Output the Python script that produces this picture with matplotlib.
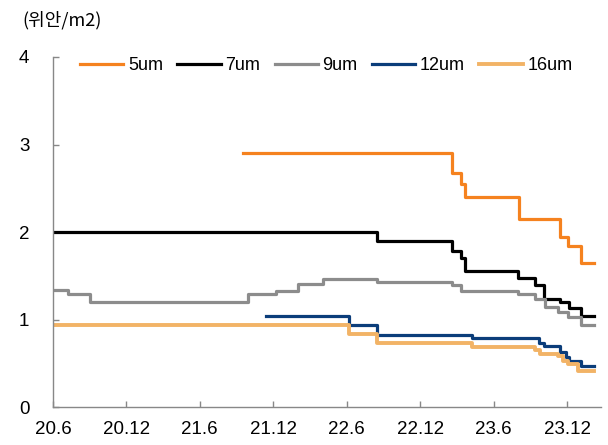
import matplotlib
matplotlib.use("Agg")
import matplotlib.pyplot as plt
from matplotlib import font_manager

# months since 2020-06, step changes
tick_pos = [0, 6, 12, 18, 24, 30, 36, 42]
tick_labels = ["20.6", "20.12", "21.6", "21.12", "22.6", "22.12", "23.6", "23.12"]

m_5um = [15.5, 32.6, 33.3, 33.7, 38.1, 41.4, 42.1, 43.1, 44.2]
v_5um = [2.9, 2.68, 2.55, 2.4, 2.15, 1.94, 1.84, 1.65, 1.65]

m_7um = [0, 26.5, 32.6, 33.3, 33.7, 38.0, 39.4, 40.1, 41.4, 42.2, 43.1, 44.2]
v_7um = [2.0, 1.9, 1.78, 1.7, 1.55, 1.48, 1.39, 1.24, 1.2, 1.13, 1.04, 1.04]

m_9um = [0, 1.2, 3.0, 15.9, 18.2, 20.0, 22.1, 26.5, 32.6, 33.3, 38.0, 39.4,
         40.2, 41.3, 42.1, 43.1, 44.2]
v_9um = [1.34, 1.29, 1.2, 1.29, 1.33, 1.41, 1.46, 1.43, 1.39, 1.33, 1.29, 1.24,
         1.14, 1.09, 1.03, 0.94, 0.94]

m_12um = [17.4, 24.2, 26.5, 34.2, 39.7, 40.1, 41.4, 41.9, 42.2, 43.1, 44.2]
v_12um = [1.04, 0.94, 0.83, 0.79, 0.73, 0.70, 0.63, 0.575, 0.53, 0.47, 0.47]

m_16um = [0, 24.2, 26.5, 34.2, 39.4, 39.8, 41.3, 41.7, 42.1, 42.9, 44.2]
v_16um = [0.94, 0.84, 0.73, 0.69, 0.65, 0.61, 0.58, 0.53, 0.49, 0.41, 0.41]

names = set(f.name for f in font_manager.fontManager.ttflist)
tick_font = "Liberation Sans Narrow" if "Liberation Sans Narrow" in names else "Liberation Sans"

fig = plt.figure(figsize=(6.08, 4.45), dpi=100)
ax = fig.add_axes([0.087, 0.085, 0.902, 0.787])

ax.plot(m_5um, v_5um, drawstyle="steps-post", color="#F5821F", lw=2.3, label="5um")
ax.plot(m_7um, v_7um, drawstyle="steps-post", color="#000000", lw=2.3, label="7um")
ax.plot(m_9um, v_9um, drawstyle="steps-post", color="#8C8C8C", lw=2.3, label="9um")
ax.plot(m_12um, v_12um, drawstyle="steps-post", color="#0B3D7A", lw=2.3, label="12um")
ax.plot(m_16um, v_16um, drawstyle="steps-post", color="#F2B366", lw=2.8, label="16um")

ax.set_xlim(0, 44.8)
ax.set_ylim(0, 4)
ax.set_yticks([0, 1, 2, 3, 4])
ax.set_xticks(tick_pos)
ax.set_xticklabels(tick_labels)

for s in ["top", "right"]:
    ax.spines[s].set_visible(False)
for s in ["left", "bottom"]:
    ax.spines[s].set_color("#888888")
    ax.spines[s].set_linewidth(1.0)

ax.tick_params(axis="both", direction="in", length=4, color="#888888", width=1)
ax.tick_params(axis="y", pad=17)
ax.tick_params(axis="x", pad=10)
for lab in ax.get_xticklabels() + ax.get_yticklabels():
    lab.set_fontfamily(tick_font)
    lab.set_fontsize(13.5)

leg = ax.legend(loc="upper left", bbox_to_anchor=(0.02, 1.045), ncol=5, frameon=False,
                handlelength=2.4, handletextpad=0.25, columnspacing=0.8,
                prop={"family": "Liberation Sans", "size": 13})

fig.text(0.036, 0.955, "(위안/m2)", fontsize=13,
         family=["Noto Sans CJK KR", "DejaVu Sans"], va="center", ha="left")

fig.savefig("out.png", dpi=100)
